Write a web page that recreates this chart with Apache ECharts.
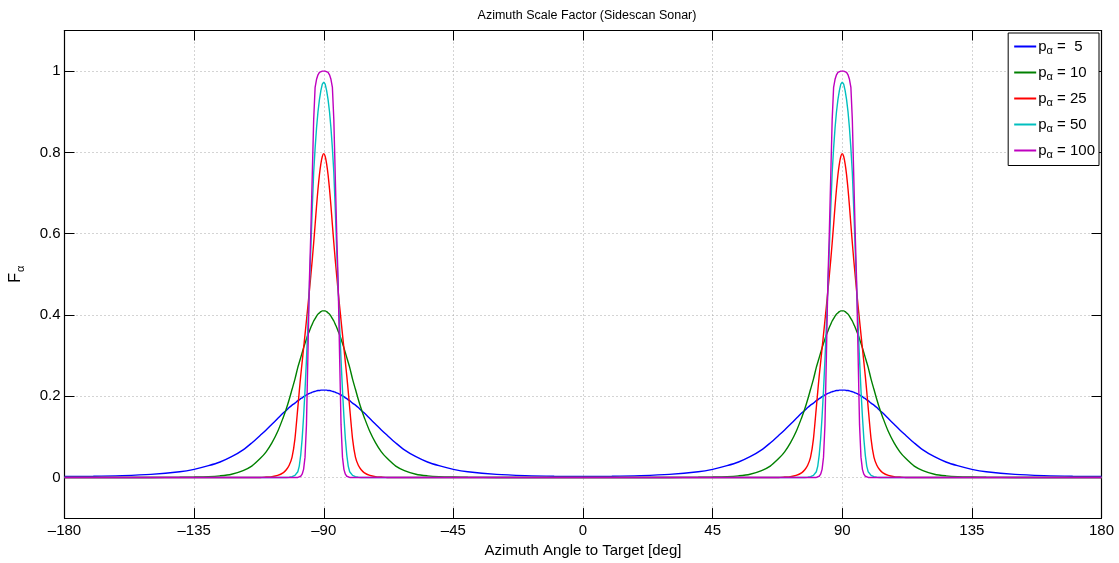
<!DOCTYPE html>
<html>
<head>
<meta charset="utf-8">
<script src="https://cdn.jsdelivr.net/npm/echarts@6/dist/echarts.min.js"></script>
<style>
html, body { margin: 0; padding: 0; background: #fff; }
#main { width: 1119px; height: 563px; }
</style>
</head>
<body>
<div id="main"></div>
<script>
// offsets (deg) from each peak; curves are the same at -90 and +90
var offsets = [0, 0.5, 1, 1.5, 2, 2.5, 3, 3.5, 4, 4.5, 5, 5.5, 6, 6.5, 7, 7.5, 8, 8.5, 9,
    10, 11, 12, 13, 14, 16, 18, 20, 22, 25, 28, 32, 36, 40, 45, 50, 60, 70, 80, 90];
var peaks = [-90, 90];

var f5 = [0.215, 0.215, 0.215, 0.214, 0.214, 0.213, 0.212, 0.211, 0.210, 0.208, 0.207, 0.205, 0.203, 0.201, 0.199, 0.196, 0.194, 0.191, 0.189,
    0.183, 0.178, 0.172, 0.165, 0.159, 0.145, 0.131, 0.117, 0.104, 0.085, 0.068, 0.051, 0.038, 0.029, 0.020, 0.014, 0.0075, 0.0045, 0.003, 0.0026];
var f10 = [0.410, 0.410, 0.408, 0.405, 0.402, 0.397, 0.391, 0.385, 0.377, 0.369, 0.360, 0.351, 0.341, 0.330, 0.319, 0.307, 0.295, 0.283, 0.271,
    0.242, 0.217, 0.192, 0.169, 0.149, 0.113, 0.085, 0.063, 0.047, 0.028, 0.017, 0.008, 0.004, 0.002, 0.001, 0.0005, 0, 0, 0, 0];
var f25 = [0.797, 0.790, 0.772, 0.745, 0.710, 0.668, 0.622, 0.577, 0.535, 0.496, 0.458, 0.422, 0.387, 0.352, 0.318, 0.284, 0.250, 0.212, 0.172,
    0.095, 0.050, 0.030, 0.019, 0.012, 0.005, 0.002, 0.001, 0, 0, 0, 0, 0, 0, 0, 0, 0, 0, 0, 0];
var f50 = [0.973, 0.968, 0.952, 0.930, 0.900, 0.860, 0.810, 0.750, 0.660, 0.560, 0.465, 0.375, 0.290, 0.215, 0.150, 0.095, 0.055, 0.028, 0.014,
    0.005, 0.002, 0.0007, 0, 0, 0, 0, 0, 0, 0, 0, 0, 0, 0, 0, 0, 0, 0, 0, 0];
var f100 = [1.000, 1.000, 0.999, 0.997, 0.991, 0.980, 0.960, 0.880, 0.740, 0.600, 0.480, 0.300, 0.130, 0.050, 0.020, 0.008, 0.003, 0.001, 0,
    0, 0, 0, 0, 0, 0, 0, 0, 0, 0, 0, 0, 0, 0, 0, 0, 0, 0, 0, 0];

var pNames = ['5', '10', '25', '50', '100'];
var profiles = [f5, f10, f25, f50, f100];
var colors = ['#0000ff', '#008000', '#ff0000', '#00bfbf', '#bf00bf'];
var smoothing = [0.3, 0.3, 0.2, 0, 0];
var yTicks = [0, 0.2, 0.4, 0.6, 0.8, 1];

var font = '"Liberation Sans", Arial, Helvetica, sans-serif';

var buildData = function (profile) {
    var pts = {};
    peaks.forEach(function (c) {
        offsets.forEach(function (d, i) {
            pts[c - d] = profile[i];
            pts[c + d] = profile[i];
        });
    });
    return Object.keys(pts).map(Number).sort(function (a, b) { return a - b; })
        .map(function (x) { return [x, pts[x]]; });
};

var series = [];
profiles.forEach(function (prof, i) {
    series.push({
        name: 'p = ' + pNames[i],
        type: 'line',
        xAxisIndex: 0,
        yAxisIndex: 0,
        showSymbol: false,
        symbol: 'none',
        smooth: smoothing[i],
        lineStyle: { color: colors[i], width: 1.4 },
        itemStyle: { color: colors[i] },
        data: buildData(prof)
    });
});

var dotted = { color: '#a8a8a8', width: 1, type: [1, 3] };
var xFmt = function (v) { return v < 0 ? '\u2013' + (-v) : String(v); };

var myChart = echarts.init(document.getElementById('main'));
var option = {
    animation: false,
    backgroundColor: '#fff',
    title: {
        text: 'Azimuth Scale Factor (Sidescan Sonar)',
        left: 582,
        textAlign: 'center',
        top: 4,
        textStyle: { fontFamily: font, fontSize: 12.5, fontWeight: 'normal', color: '#000' }
    },
    grid: { left: 63.5, top: 30.5, right: 17.5, bottom: 40, containLabel: false },
    legend: {
        orient: 'vertical',
        right: 20,
        top: 33,
        width: 90,
        padding: [6, 4, 5, 6],
        itemGap: 8.5,
        itemWidth: 22,
        itemHeight: 2,
        icon: 'rect',
        borderColor: '#000',
        borderWidth: 1,
        backgroundColor: '#fff',
        data: series.map(function (s) { return s.name; }),
        formatter: function (name) {
            var v = name.replace('p = ', '');
            return '{p|p}{s|\u03b1}{t| = ' + (v.length < 2 ? ' ' : '') + v + '}';
        },
        textStyle: {
            fontFamily: font,
            color: '#000',
            padding: [0, 0, 0, -3],
            rich: {
                p: { fontFamily: font, fontSize: 15, color: '#000' },
                s: { fontFamily: font, fontSize: 11, color: '#000', padding: [9, 0, 0, 0] },
                t: { fontFamily: font, fontSize: 15, color: '#000' }
            }
        }
    },
    xAxis: [{
        type: 'value',
        min: -180,
        max: 180,
        interval: 45,
        name: 'Azimuth Angle to Target [deg]',
        nameLocation: 'middle',
        nameGap: 20,
        nameTextStyle: { fontFamily: font, fontSize: 15, color: '#000' },
        axisLine: { show: true, onZero: false, lineStyle: { color: '#000', width: 1.2 } },
        axisTick: { show: true, inside: true, length: 10, lineStyle: { color: '#000' } },
        axisLabel: { fontFamily: font, fontSize: 15, color: '#000', margin: 5, formatter: xFmt },
        splitLine: { show: true, lineStyle: dotted }
    }, {
        type: 'value',
        position: 'top',
        min: -180,
        max: 180,
        interval: 45,
        axisLine: { show: true, onZero: false, lineStyle: { color: '#000', width: 1.2 } },
        axisTick: { show: true, inside: true, length: 10, lineStyle: { color: '#000' } },
        axisLabel: { show: false },
        splitLine: { show: false }
    }],
    yAxis: [{
        type: 'value',
        min: -0.1,
        max: 1.1,
        name: '{f|F}{s|\u03b1}',
        nameLocation: 'middle',
        nameRotate: 90,
        nameGap: 38,
        nameTextStyle: {
            rich: {
                f: { fontFamily: font, fontSize: 16, color: '#000' },
                s: { fontFamily: font, fontSize: 11, color: '#000', padding: [10, 0, 0, 1] }
            }
        },
        axisLine: { show: true, onZero: false, lineStyle: { color: '#000', width: 1.2 } },
        axisTick: { show: true, inside: true, length: 10, customValues: yTicks, lineStyle: { color: '#000' } },
        axisLabel: { fontFamily: font, fontSize: 15, color: '#000', margin: 4, customValues: yTicks },
        splitLine: { show: true, lineStyle: dotted }
    }, {
        type: 'value',
        position: 'right',
        min: -0.1,
        max: 1.1,
        axisLine: { show: true, onZero: false, lineStyle: { color: '#000', width: 1.2 } },
        axisTick: { show: true, inside: true, length: 10, customValues: yTicks, lineStyle: { color: '#000' } },
        axisLabel: { show: false },
        splitLine: { show: false }
    }],
    series: series
};
myChart.setOption(option);
</script>
</body>
</html>
